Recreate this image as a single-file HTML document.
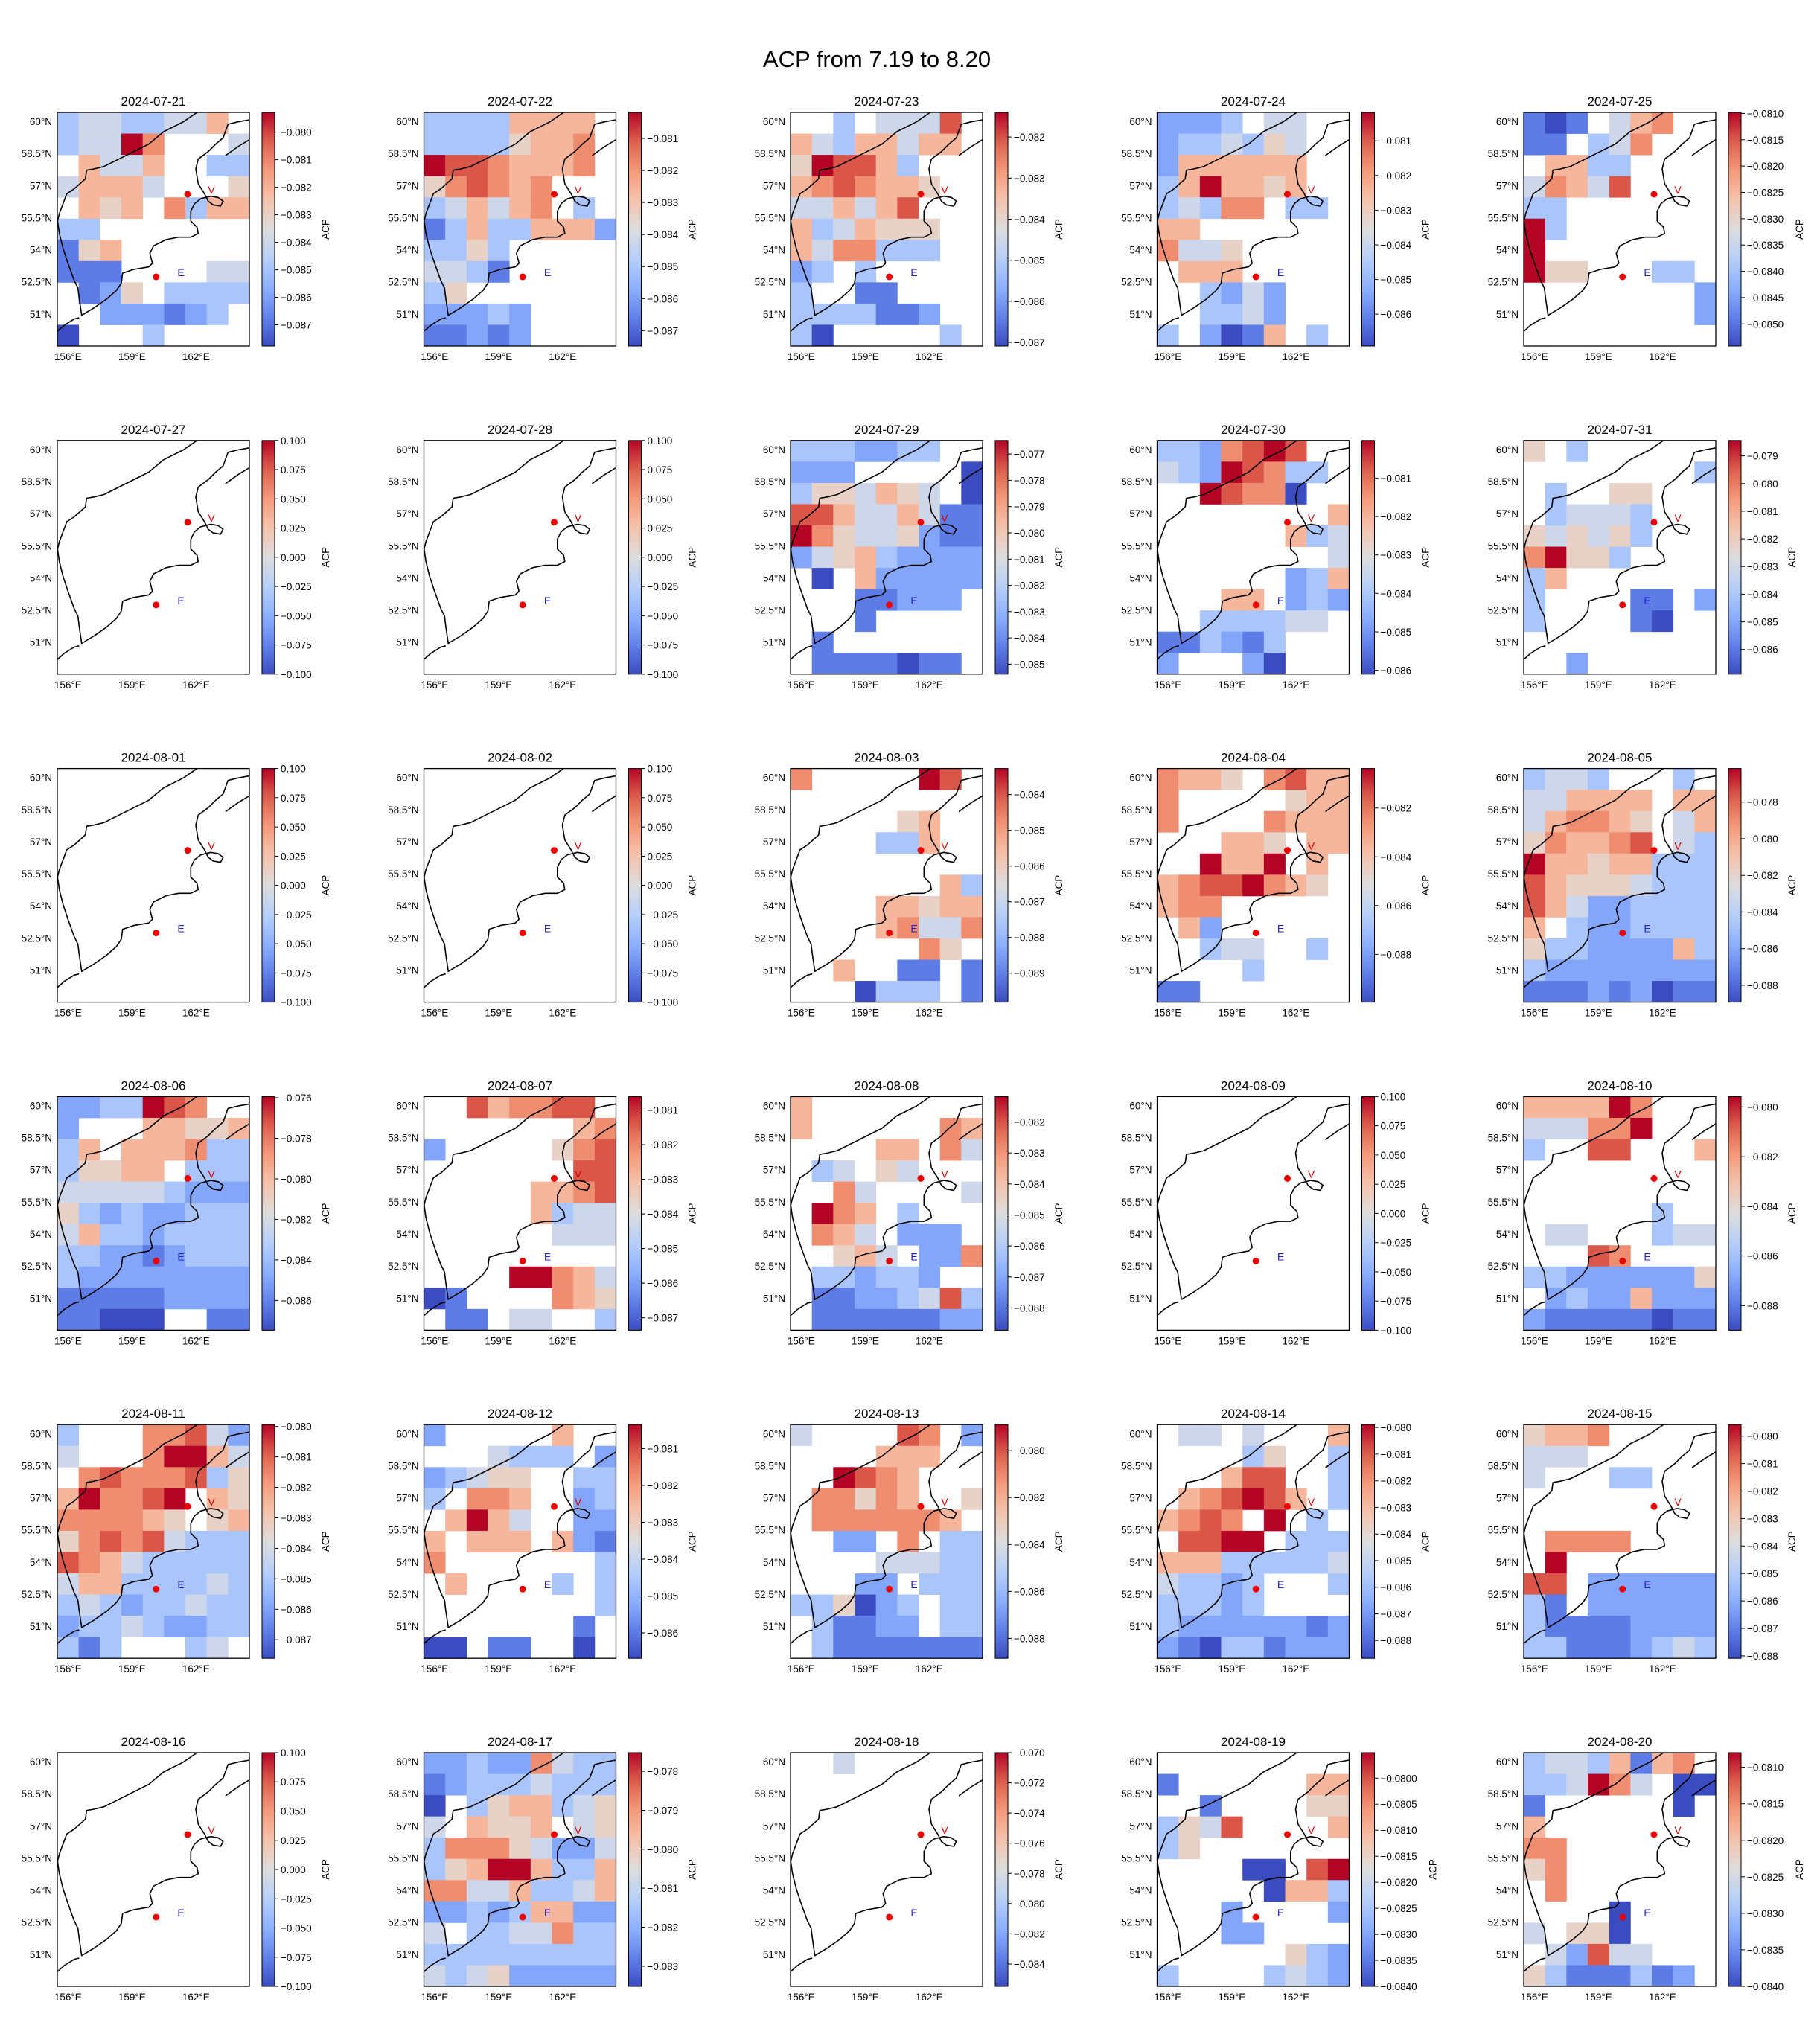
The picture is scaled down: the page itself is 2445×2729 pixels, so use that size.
<!DOCTYPE html>
<html><head><meta charset="utf-8"><title>ACP from 7.19 to 8.20</title>
<style>
html,body{margin:0;padding:0;background:#fff;}
svg text{font-family:"Liberation Sans",sans-serif;fill:#000;}
</style></head>
<body>
<svg id="fig" xmlns="http://www.w3.org/2000/svg" width="2445" height="2724" viewBox="0 0 2445 2724">
<rect x="0" y="0" width="2445" height="2724" fill="#fff"/>
<text x="1178" y="90" font-size="31" text-anchor="middle">ACP from 7.19 to 8.20</text>
<g id="panels"></g>
</svg>
<script>
const dates=["2024-07-21","2024-07-22","2024-07-23","2024-07-24","2024-07-25","2024-07-27","2024-07-28","2024-07-29","2024-07-30","2024-07-31","2024-08-01","2024-08-02","2024-08-03","2024-08-04","2024-08-05","2024-08-06","2024-08-07","2024-08-08","2024-08-09","2024-08-10","2024-08-11","2024-08-12","2024-08-13","2024-08-14","2024-08-15","2024-08-16","2024-08-17","2024-08-18","2024-08-19","2024-08-20"];
const vmins=[-0.08777,-0.08748,-0.08709,-0.08692,-0.08542,-0.1,-0.1,-0.08538,-0.08610,-0.08689,-0.1,-0.1,-0.08981,-0.08996,-0.08892,-0.08747,-0.08736,-0.08872,-0.1,-0.08899,-0.08761,-0.08669,-0.08885,-0.08867,-0.08809,-0.1,-0.08352,-0.08548,-0.0840,-0.0840];
const vmaxs=[-0.07928,-0.08019,-0.08140,-0.08018,-0.08098,0.1,0.1,-0.07648,-0.08002,-0.07844,0.1,0.1,-0.08327,-0.08038,-0.07617,-0.07594,-0.08061,-0.08118,0.1,-0.07958,-0.07994,-0.08035,-0.07889,-0.07989,-0.07958,0.1,-0.07752,-0.0700,-0.07951,-0.08080];
const tickSteps=[0.001,0.001,0.001,0.001,0.0005,0.025,0.025,0.001,0.001,0.001,0.025,0.025,0.001,0.002,0.002,0.002,0.001,0.001,0.025,0.002,0.001,0.001,0.002,0.001,0.001,0.025,0.001,0.002,0.0005,0.0005];
const E11=[".........",".........",".........",".........",".........",".........",".........",".........",".........",".........","........."];
// level grids: 11 rows (north->south) x 9 cols (west->east); 0=vmin ... 9=vmax, '.'=no data
const levelGrids=[
["34433446.","34497...4",".6446..33","46664...5",".656.7366","33.......","156......","111....44",".125.3333","..222123.","0...3...."],
["33336666.","33335667.","98876667.","578767...","346467.3.","136336662","3353.....","4431.....","35.......","22232....","11212...."],
["..3.4448.","64366466.","598863...","6787665..","446468...","6346555..","6477333..","23.3.....","3..11....","3333112..","30.....3."],
["2223.44..","2334354..","2666666..","3696656..","34377.33.","66.......","7445.....",".666.....","..3242...","..3342...","3.2016.3."],
["101.467..","11.347...",".6633....","47648....","33.......","93.......","9........","955...33.","........2","........2","........."],
E11,E11,
["3332233..","222.....0","3554654.0","886446411","975445211","245632222",".0.622222","...11222.","...1.....",".1.......",".1111011."],
["3327898..","43298733.","..98770..","........6","......634","........4","......236","...66.232","..333344.","113213...","2...20..."],
["5.3......","........3",".3..55...",".34443...","545453...","79553....","36.......","3....11.2","3....10..",".........","..2......"],
E11,E11,
["7.....98.",".........",".....56..","....336..",".........",".......63","....66566","....67447","......75.","..6..11.1","...0333.1"],
["7665.7866","7.....566","7....7666","...665.66","..9669.6.","67889765.","677......",".62......","..344..3.","....3....","11......."],
["3443...3.","446666.66","467765.46","576678.43","966566333","865554333","864223333","6.3223333","533222263","322222222","111212011"],
["2233987..","2...66556","36.666733","35566.333","444443222","532322333","463323333","332212333","322222222","111112222","11000..11"],
["..867788.",".......67","2.....578",".......88",".....6678",".....6344","......444",".........","....99764","01....765",".11.44..3"],
["6........","6......76","....66.74",".34.54...","..74....4",".976.3...",".764.222.","..564.227",".332332..",".11223483",".11111122"],
E11,
["666697...","444779...","3..88...6",".........",".........","......3..",".44...344","...87....","332222225",".23226222","211111011"],
["3...77842","4...79964",".78777835","697789.65","777765.56","578784333","876433333","466333343","343233433","233432233","313...34."],
["2.....6..","...4333.2","23455..33","3.776..23",".6964..22","6.666.621","7.......3",".6....3.3","........3",".......1.","00.11..0."],
["4....87.2","....666..","..9876...",".77576..5",".7777776.","..22.7.33","....44433","...22.333","335023.33",".31122.33",".31111111"],
[".44.4...6","....35..3","...688..3",".678986.3","6787.9.3.",".8899.333","666333334","43323...3","33323....","322222212","210331222"],
["5667.....","444......","4...33...",".........",".........",".7777....",".9.......","88.222222","31.222222","311112222","331112343"],
E11,
["223227433","123334333","0.3566345","4.6556.45","377754224","356996336","774463346","223236622","4.3344733","333333333","434522222"],
["..4......",".........",".........",".........",".........",".........",".........",".........",".........",".........","........."],
[".........","1......66","..1....55","3548....6","35.......","....00.89",".....0663","...2....2","...22....","......532","3....3432"],
["34436167.","334974.00","1......0.","6........","77.......","57.......",".7.......","....0....","4.550....",".42844...","53111312."]
];
const latTicks=[60,58.5,57,55.5,54,52.5,51];
const latLabels=["60°N","58.5°N","57°N","55.5°N","54°N","52.5°N","51°N"];
const lonTicks=[156,159,162];
const lonLabels=["156°E","159°E","162°E"];

const NS="http://www.w3.org/2000/svg";
const AX_W=258, AX_H=314, COL_DX=492.5, ROW_DY=440.8, X0=77, Y0=151;
const LON0=155.5, LON1=164.5, LAT0=49.5, LAT1=60.42;
const CB_DX=275, CB_W=17;
const cmapStops=[[0,[59,76,192]],[0.125,[98,130,234]],[0.25,[141,176,254]],[0.375,[184,208,249]],[0.5,[221,221,221]],[0.625,[245,196,173]],[0.75,[244,154,123]],[0.875,[222,96,77]],[1,[180,4,38]]];
function cmap(t){t=Math.max(0,Math.min(1,t));for(let i=1;i<cmapStops.length;i++){if(t<=cmapStops[i][0]){const a=cmapStops[i-1],b=cmapStops[i];const f=(t-a[0])/(b[0]-a[0]);const c=a[1].map((v,k)=>Math.round(v+(b[1][k]-v)*f));return `rgb(${c[0]},${c[1]},${c[2]})`;}}return "rgb(180,4,38)";}
function mk(tag,attrs,parent){const e=document.createElementNS(NS,tag);for(const k in attrs)e.setAttribute(k,attrs[k]);if(parent)parent.appendChild(e);return e;}
function xScale(lon){return (lon-LON0)/(LON1-LON0)*AX_W;}
function yScale(lat){return (LAT1-lat)/(LAT1-LAT0)*AX_H;}
const coastW=[[187.7,0],[169.3,12.7],[142.7,26],[122.7,42.7],[102.7,52.7],[82.7,62.7],[62.7,72.7],[49.3,76],[39.3,77.7],[37.7,89.3],[22.7,102.7],[12.7,109.3],[7.7,122.7],[2.7,136],[0.3,146],[2.7,162.7],[7.7,182.7],[14.3,202.7],[22.7,226],[27.7,236],[29.3,249.3],[32.7,272.7],[49.3,262.7],[66,251],[79.3,239.3],[86,229.3],[87.7,216],[102.7,211],[122.7,207.7],[127.7,202.7],[124.3,189.3],[129.3,179.3],[146,171],[162.7,167.7],[179.3,167.7],[189.3,162.7],[187.7,154.3],[179.3,146],[179.3,132.7],[184.3,122.7],[192.7,116],[206,112.7],[216,114.3],[222.7,119.3],[219.3,126],[209.3,124.3],[202.7,119.3],[197.7,109.3],[189.3,96],[186,76],[189.3,62.7],[202.7,52.7],[212.7,42.7],[222.7,34.3],[229.3,16],[242.7,12.7],[258,10]];
const coastB=[[226,58],[242.7,46],[258,36.7]];
const coastC=[[0,294.3],[9.3,286],[22.7,277.7],[29.3,276]];
function fmt(v,step){const d=step<0.001?4:3;let s=Math.abs(v).toFixed(d);return (v< -1e-12?"\u2212":"")+s;}

const root=document.getElementById('panels');
const defs=mk('defs',{},root);
const gr=mk('linearGradient',{id:'cw',x1:'0',y1:'1',x2:'0',y2:'0'},defs);
for(let i=0;i<=20;i++){mk('stop',{offset:(i/20).toFixed(3),'stop-color':cmap(i/20)},gr);}

dates.forEach((date,p)=>{
  const col=p%5,row=Math.floor(p/5);
  const ax=X0+col*COL_DX, ay=Y0+row*ROW_DY;
  const vmin=vmins[p],vmax=vmaxs[p];
  const g=mk('g',{transform:`translate(${ax.toFixed(1)},${ay.toFixed(1)})`},root);
  
  
  mk('clipPath',{id:'clip'+p},defs).appendChild(mk('rect',{x:0,y:0,width:AX_W,height:AX_H}));
  const cells=mk('g',{'clip-path':`url(#clip${p})`},g);
  
  
  const grid=levelGrids[p];
  const nr=grid.length,nc=grid[0].length;
  const latStep=(LAT1-LAT0)/nr, lonStep=(LON1-LON0)/nc;
  grid.forEach((rs,r)=>{for(let c=0;c<nc;c++){const ch=rs[c];if(ch==='.')continue;
    const lvl=+ch;const val=vmin+lvl/9*(vmax-vmin);
    const x1=xScale(LON0+c*lonStep),x2=xScale(LON0+(c+1)*lonStep);
    const y1=yScale(LAT1-r*latStep),y2=yScale(LAT1-(r+1)*latStep);
    const rc=mk('rect',{x:x1.toFixed(2),y:y1.toFixed(2),width:(x2-x1+0.4).toFixed(2),height:(y2-y1+0.4).toFixed(2),fill:cmap((val-vmin)/(vmax-vmin))},cells);
    
    
  }});
  const coast=mk('g',{'clip-path':`url(#clip${p})`,fill:'none',stroke:'#000','stroke-width':1.6,'stroke-linejoin':'round'},g);
  
  
  [coastW,coastB,coastC].forEach(pts=>mk('polyline',{points:pts.map(q=>q.join(',')).join(' ')},coast));
  const d1=mk('circle',{cx:175,cy:110,r:4.5,fill:'#e00'},g);
  
  
  const d2=mk('circle',{cx:132.7,cy:221,r:4.5,fill:'#e00'},g);
  
  
  const tv=mk('text',{x:207,y:109,'font-size':14,'text-anchor':'middle'},g);tv.textContent='V';tv.style.fill='#d00';
  
  
  const te=mk('text',{x:166,y:220,'font-size':14,'text-anchor':'middle'},g);te.textContent='E';te.style.fill='#22c';
  
  
  const fr=mk('rect',{x:0,y:0,width:AX_W,height:AX_H,fill:'none',stroke:'#000','stroke-width':1.3},g);
  
  
  const tt=mk('text',{x:AX_W/2,y:-9,'font-size':17,'text-anchor':'middle'},g);tt.textContent=date;
  
  
  latTicks.forEach((lat,i)=>{const t=mk('text',{x:-7,y:(yScale(lat)+5).toFixed(1),'font-size':13.5,'text-anchor':'end'},g);t.textContent=latLabels[i];
    
    });
  lonTicks.forEach((lon,i)=>{const t=mk('text',{x:xScale(lon).toFixed(1),y:AX_H+19,'font-size':13.5,'text-anchor':'middle'},g);t.textContent=lonLabels[i];
    
    });
  // colorbar
  const cb=mk('g',{transform:`translate(${CB_DX},0)`},g);
  
  
  mk('rect',{x:0,y:0,width:CB_W,height:AX_H,fill:'url(#cw)',stroke:'#000','stroke-width':1},cb);
  const step=tickSteps[p];
  const k0=Math.ceil(vmin/step-1e-6),k1=Math.floor(vmax/step+1e-6);
  for(let k=k0;k<=k1;k++){const v=k*step;const y=(vmax-v)/(vmax-vmin)*AX_H;
    mk('line',{x1:CB_W,x2:CB_W+5,y1:y.toFixed(1),y2:y.toFixed(1),stroke:'#000','stroke-width':1},cb);
    const t=mk('text',{x:CB_W+8,y:(y+5).toFixed(1),'font-size':13.5},cb);t.textContent=fmt(v,step);
    
    }
  const lab=mk('text',{x:0,y:0,'font-size':13.5,'text-anchor':'middle',transform:`translate(${365-CB_DX+(step<0.001?10:0)},${AX_H/2}) rotate(-90)`},cb);lab.textContent='ACP';
  
  
});
</script>
</body></html>
